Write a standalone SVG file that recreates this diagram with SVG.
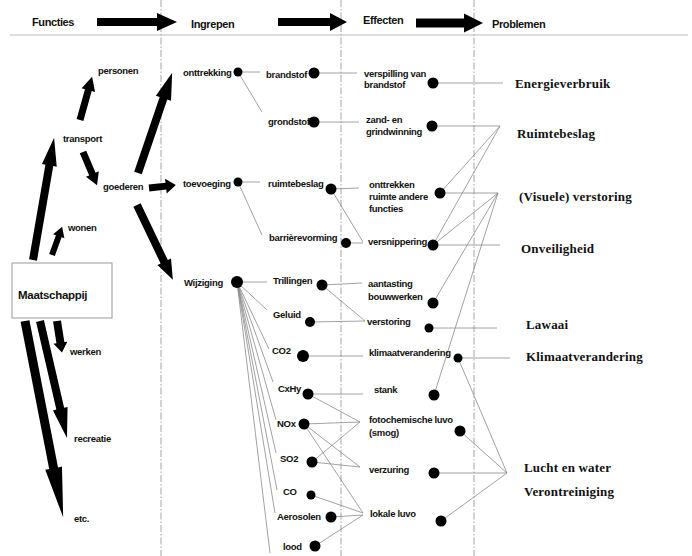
<svg xmlns="http://www.w3.org/2000/svg" width="692" height="556" viewBox="0 0 692 556">
<style>
.l{font-family:"Liberation Sans",Arial,sans-serif;font-weight:bold;font-size:9.5px;letter-spacing:-0.3px;fill:#111}
.h{font-family:"Liberation Sans",Arial,sans-serif;font-weight:bold;font-size:11px;letter-spacing:-0.4px;fill:#111}
.p{font-family:"Liberation Serif","Times New Roman",serif;font-weight:bold;font-size:13px;letter-spacing:0.2px;fill:#111}
.g line{stroke:#8a8a8a;stroke-width:0.8}
.v{stroke:#9a9a9a;stroke-width:0.9;stroke-dasharray:7,2,1.5,2}
.a{fill:#000}
circle{fill:#000}
</style>
<rect width="692" height="556" fill="#fff"/>
<!-- header -->
<g id="header">
<line x1="10" y1="35" x2="688" y2="35" stroke="#bbb" stroke-width="1"/>
<line class="v" x1="161" y1="0" x2="161" y2="556"/>
<line class="v" x1="341" y1="0" x2="341" y2="556"/>
<line class="v" x1="474" y1="0" x2="474" y2="556"/>
<text class="h" x="32" y="26">Functies</text>
<text class="h" x="191" y="28">Ingrepen</text>
<text class="h" x="363" y="24">Effecten</text>
<text class="h" x="492" y="28">Problemen</text>
<polygon class="a" points="97,18 157,18 157,13 177,22 157,31 157,26 97,26"/>
<polygon class="a" points="278,18 330,18 330,13 347,22 330,31 330,26 278,26"/>
<polygon class="a" points="416,18.5 464,18.5 464,13.5 483,23 464,32.5 464,27.5 416,27.5"/>
</g>
<!-- connectors -->
<g id="connectors">
<g id="arrows">
<polygon class="a" transform="translate(33,260) rotate(-80.2)" points="0,-4 96,-4 96,-7.5 124,0 96,7.5 96,4 0,4"/>
<polygon class="a" transform="translate(80,120) rotate(-74.4)" points="0,-3.5 31,-3.5 31,-7 45,0 31,7 31,3.5 0,3.5"/>
<polygon class="a" transform="translate(83,152) rotate(67)" points="0,-3.5 24,-3.5 24,-7 36,0 24,7 24,3.5 0,3.5"/>
<polygon class="a" transform="translate(138,173) rotate(-71.2)" points="0,-4 79,-4 79,-8 106,0 79,8 79,4 0,4"/>
<polygon class="a" transform="translate(149,188) rotate(-6.3)" points="0,-3.5 17,-3.5 17,-7.5 27,0 17,7.5 17,3.5 0,3.5"/>
<polygon class="a" transform="translate(137,205) rotate(64.4)" points="0,-4 63,-4 63,-7.5 83,0 63,7.5 63,4 0,4"/>
<polygon class="a" transform="translate(52,255) rotate(-70.3)" points="0,-3 20,-3 20,-6 30,0 20,6 20,3 0,3"/>
<polygon class="a" transform="translate(57,321) rotate(81.1)" points="0,-4 22,-4 22,-7 32,0 22,7 22,4 0,4"/>
<polygon class="a" transform="translate(40,321) rotate(77)" points="0,-4 90,-4 90,-7.5 120,0 90,7.5 90,4 0,4"/>
<polygon class="a" transform="translate(25,321) rotate(79)" points="0,-4.5 150,-4.5 150,-8.5 200,0 150,8.5 150,4.5 0,4.5"/>
</g>
<g class="g">
<line x1="238" y1="72" x2="260" y2="72"/>
<line x1="238" y1="72" x2="262" y2="112"/>
<line x1="238" y1="182" x2="260" y2="182"/>
<line x1="238" y1="182" x2="262" y2="235"/>
<line x1="237" y1="282" x2="267" y2="282"/>
<line x1="237" y1="282" x2="267" y2="310"/>
<line x1="237" y1="282" x2="269" y2="349"/>
<line x1="237" y1="282" x2="273" y2="382"/>
<line x1="237" y1="282" x2="276" y2="420"/>
<line x1="237" y1="282" x2="276" y2="453"/>
<line x1="237" y1="282" x2="277" y2="490"/>
<line x1="237" y1="282" x2="275" y2="513"/>
<line x1="237" y1="282" x2="270" y2="553"/>
<line x1="314" y1="73" x2="357" y2="73"/>
<line x1="314" y1="122" x2="359" y2="122"/>
<line x1="331" y1="189" x2="359" y2="188"/>
<line x1="331" y1="189" x2="363" y2="242"/>
<line x1="346" y1="243" x2="363" y2="243"/>
<line x1="322" y1="285" x2="362" y2="283"/>
<line x1="322" y1="285" x2="365" y2="321"/>
<line x1="310" y1="322" x2="365" y2="321"/>
<line x1="303" y1="356" x2="363" y2="356"/>
<line x1="308" y1="394" x2="363" y2="394"/>
<line x1="308" y1="394" x2="360" y2="422"/>
<line x1="304" y1="424" x2="360" y2="422"/>
<line x1="304" y1="424" x2="360" y2="467"/>
<line x1="304" y1="424" x2="363" y2="513"/>
<line x1="312" y1="462" x2="360" y2="422"/>
<line x1="312" y1="462" x2="360" y2="467"/>
<line x1="311" y1="495" x2="363" y2="513"/>
<line x1="331" y1="517" x2="363" y2="515"/>
<line x1="315" y1="546" x2="363" y2="515"/>
<line x1="433" y1="83" x2="503" y2="83"/>
<line x1="432" y1="126" x2="500" y2="126"/>
<line x1="440" y1="193" x2="500" y2="126"/>
<line x1="440" y1="193" x2="498" y2="193"/>
<line x1="433" y1="245" x2="500" y2="126"/>
<line x1="433" y1="245" x2="498" y2="193"/>
<line x1="433" y1="245" x2="500" y2="245"/>
<line x1="433" y1="303" x2="498" y2="193"/>
<line x1="434" y1="395" x2="498" y2="193"/>
<line x1="429" y1="328" x2="497" y2="328"/>
<line x1="458" y1="358" x2="510" y2="358"/>
<line x1="458" y1="358" x2="507" y2="473"/>
<line x1="460" y1="431" x2="507" y2="473"/>
<line x1="434" y1="473" x2="507" y2="473"/>
<line x1="441" y1="521" x2="507" y2="473"/>
</g>
</g>
<!-- functies -->
<g id="n-maatschappij"><rect x="12" y="263" width="100" height="55" fill="#fff" stroke="#999" stroke-width="1"/><text class="l" x="18" y="298.5" style="font-size:11.5px">Maatschappij</text></g>
<g id="n-personen"><text class="l" x="98" y="74">personen</text></g>
<g id="n-transport"><text class="l" x="63" y="142">transport</text></g>
<g id="n-goederen"><text class="l" x="103" y="190">goederen</text></g>
<g id="n-wonen"><text class="l" x="68" y="231">wonen</text></g>
<g id="n-werken"><text class="l" x="70" y="355">werken</text></g>
<g id="n-recreatie"><text class="l" x="74" y="442">recreatie</text></g>
<g id="n-etc"><text class="l" x="74" y="522">etc.</text></g>
<!-- ingrepen -->
<g id="n-onttrekking"><text class="l" x="183" y="76">onttrekking</text><circle cx="238" cy="72" r="4.5"/></g>
<g id="n-toevoeging"><text class="l" x="183" y="187">toevoeging</text><circle cx="238" cy="182" r="4.5"/></g>
<g id="n-wijziging"><text class="l" x="184" y="286">Wijziging</text><circle cx="237" cy="282" r="6"/></g>
<g id="n-brandstof"><text class="l" x="266" y="78">brandstof</text><circle cx="314" cy="73" r="5.5"/></g>
<g id="n-grondstof"><text class="l" x="268" y="125">grondstof</text><circle cx="314" cy="122" r="5.5"/></g>
<g id="n-ruimtebeslag"><text class="l" x="268" y="187">ruimtebeslag</text><circle cx="331" cy="189" r="5.5"/></g>
<g id="n-barriere"><text class="l" x="269" y="241">barrièrevorming</text><circle cx="346" cy="243" r="5"/></g>
<g id="n-trillingen"><text class="l" x="273" y="284">Trillingen</text><circle cx="322" cy="285" r="5.5"/></g>
<g id="n-geluid"><text class="l" x="273" y="318">Geluid</text><circle cx="310" cy="322" r="5"/></g>
<g id="n-co2"><text class="l" x="272" y="354">CO2</text><circle cx="303" cy="356" r="6"/></g>
<g id="n-cxhy"><text class="l" x="278" y="392">CxHy</text><circle cx="308" cy="394" r="5.5"/></g>
<g id="n-nox"><text class="l" x="277" y="427">NOx</text><circle cx="304" cy="424" r="5.5"/></g>
<g id="n-so2"><text class="l" x="280" y="462">SO2</text><circle cx="312" cy="462" r="5.5"/></g>
<g id="n-co"><text class="l" x="283" y="495">CO</text><circle cx="311" cy="495" r="4.5"/></g>
<g id="n-aerosolen"><text class="l" x="277" y="520">Aerosolen</text><circle cx="331" cy="517" r="5.5"/></g>
<g id="n-lood"><text class="l" x="283" y="550">lood</text><circle cx="315" cy="546" r="5.5"/></g>
<!-- effecten -->
<g id="n-verspilling"><text class="l" x="364" y="77">verspilling van</text><text class="l" x="364" y="88">brandstof</text><circle cx="433" cy="83" r="5.5"/></g>
<g id="n-zand"><text class="l" x="366" y="123">zand- en</text><text class="l" x="366" y="135">grindwinning</text><circle cx="432" cy="126" r="5.5"/></g>
<g id="n-onttrekken"><text class="l" x="369" y="188">onttrekken</text><text class="l" x="369" y="200">ruimte andere</text><text class="l" x="369" y="212">functies</text><circle cx="440" cy="193" r="5.5"/></g>
<g id="n-versnippering"><text class="l" x="368" y="245">versnippering</text><circle cx="433" cy="245" r="5.5"/></g>
<g id="n-aantasting"><text class="l" x="368" y="287">aantasting</text><text class="l" x="368" y="300">bouwwerken</text><circle cx="433" cy="303" r="5.5"/></g>
<g id="n-verstoring"><text class="l" x="367" y="325">verstoring</text><circle cx="429" cy="328" r="4.5"/></g>
<g id="n-klimaat"><text class="l" x="369" y="356">klimaatverandering</text><circle cx="458" cy="358" r="4.5"/></g>
<g id="n-stank"><text class="l" x="374" y="393">stank</text><circle cx="434" cy="395" r="5.5"/></g>
<g id="n-foto"><text class="l" x="369" y="423">fotochemische luvo</text><text class="l" x="369" y="436">(smog)</text><circle cx="460" cy="431" r="5.5"/></g>
<g id="n-verzuring"><text class="l" x="369" y="473">verzuring</text><circle cx="434" cy="473" r="5.5"/></g>
<g id="n-lokale"><text class="l" x="370" y="517">lokale luvo</text><circle cx="441" cy="521" r="5.5"/></g>
<!-- problemen -->
<g id="p-energie"><text class="p" x="515" y="87.5">Energieverbruik</text></g>
<g id="p-ruimte"><text class="p" x="517" y="138">Ruimtebeslag</text></g>
<g id="p-visueel"><text class="p" x="519" y="201">(Visuele) verstoring</text></g>
<g id="p-onveilig"><text class="p" x="521" y="253">Onveiligheid</text></g>
<g id="p-lawaai"><text class="p" x="526" y="329">Lawaai</text></g>
<g id="p-klimaat"><text class="p" x="526" y="361">Klimaatverandering</text></g>
<g id="p-lucht"><text class="p" x="524" y="472">Lucht en water</text><text class="p" x="524" y="496">Verontreiniging</text></g>
</svg>
